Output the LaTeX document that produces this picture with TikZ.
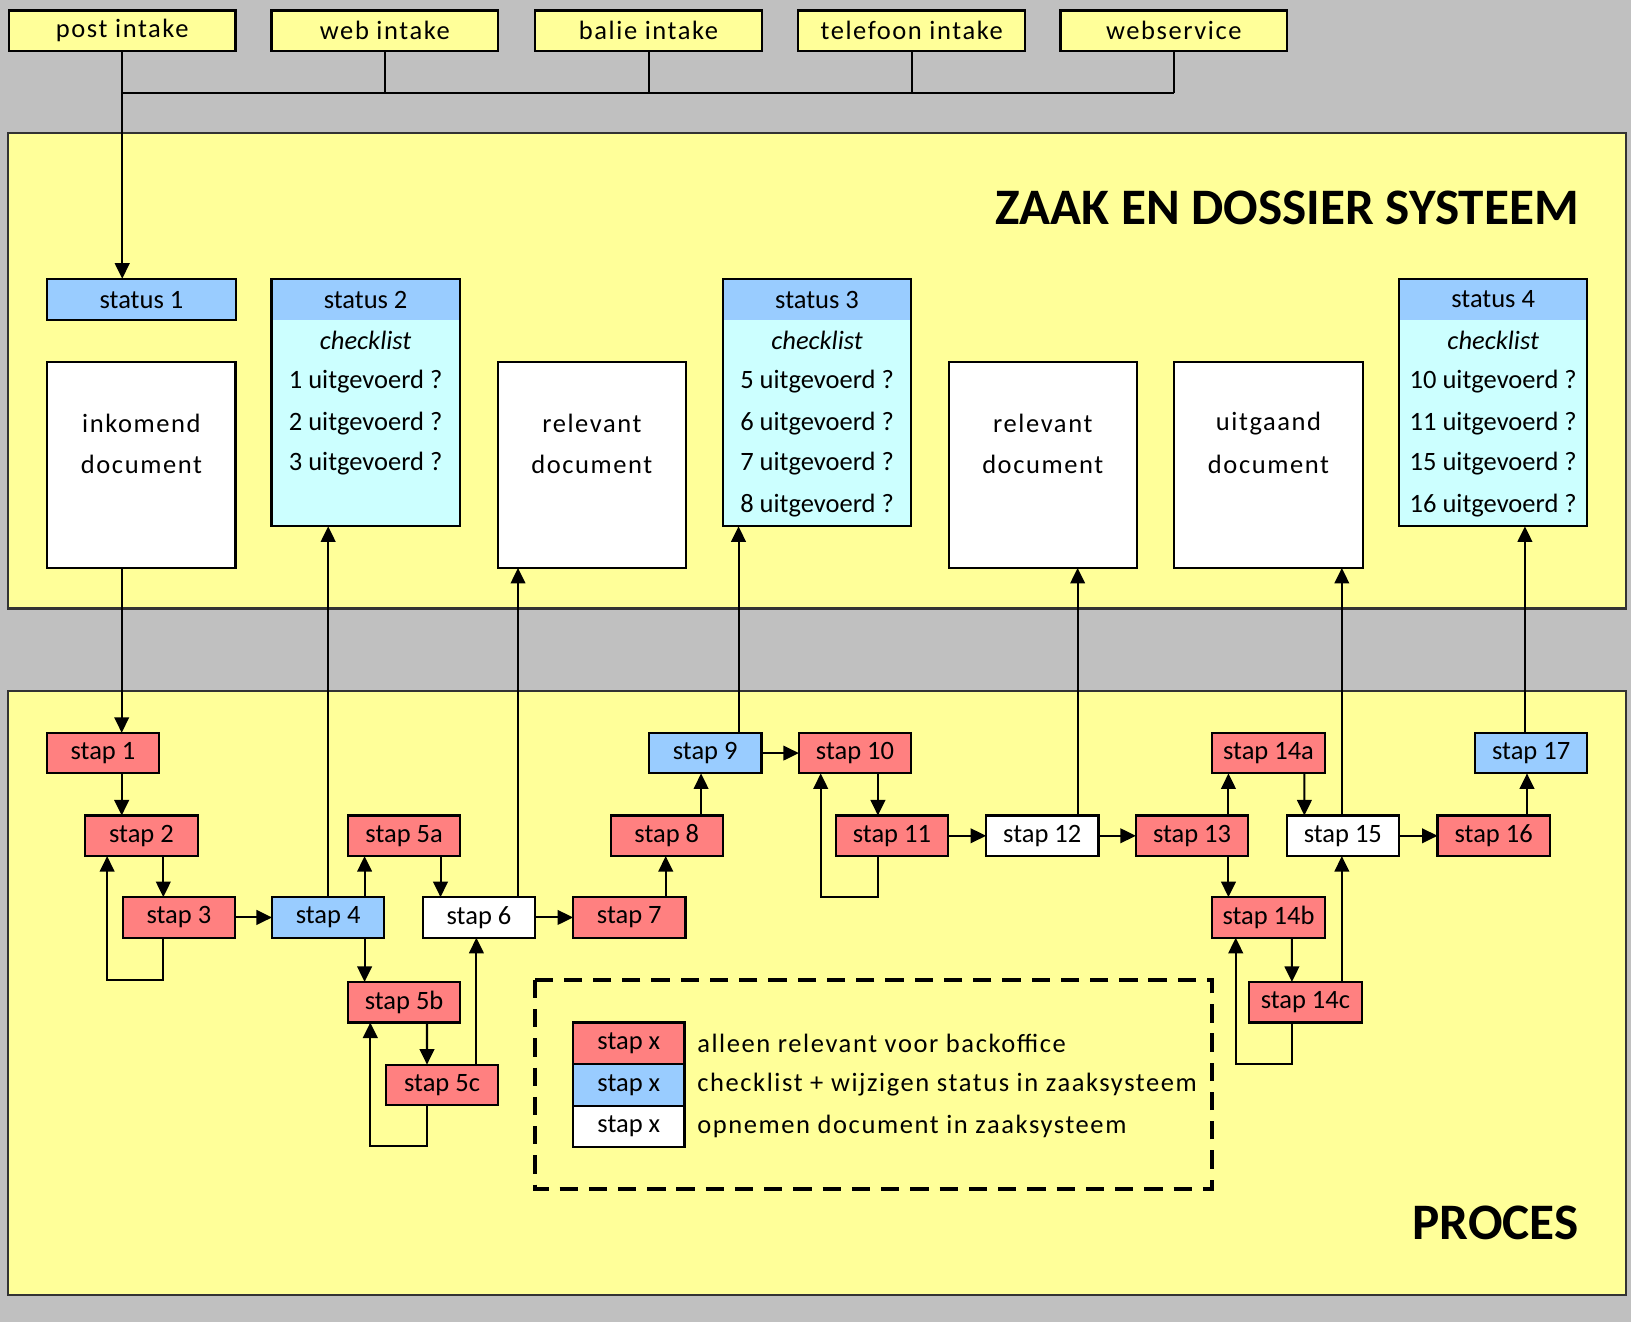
\documentclass[tikz,border=0pt]{standalone}
\usepackage{fontspec}
\setmainfont{Carlito}
\usetikzlibrary{calc,arrows.meta}
\definecolor{bggray}{HTML}{C0C0C0}
\definecolor{panelyellow}{HTML}{FFFF99}
\definecolor{stapred}{HTML}{FF8080}
\definecolor{stapblue}{HTML}{99CCFF}
\definecolor{listcyan}{HTML}{CCFFFF}
\newcommand{\wide}{\addfontfeature{LetterSpace=6.0}}
\tikzset{
  base/.style={draw=black, line width=1.2pt, inner sep=0pt, outer sep=0pt, align=center},
  intake/.style={base, fill=panelyellow, minimum width=4.36cm, minimum height=0.78cm, font=\fontsize{14.5}{17}\selectfont\wide},
  stapbox/.style={base, minimum width=2.16cm, minimum height=0.78cm},
  red/.style={stapbox, fill=stapred},
  blue/.style={stapbox, fill=stapblue},
  white/.style={stapbox, fill=white},
  docbox/.style={base, fill=white, minimum width=3.62cm, minimum height=3.96cm},
  statbox/.style={base, fill=listcyan, minimum width=3.62cm, minimum height=4.76cm},
  panel/.style={draw=black!80, line width=1.2pt, fill=panelyellow},
  txt/.style={inner sep=0pt},
  widetxt/.style={inner sep=0pt, font=\fontsize{14.5}{17}\selectfont\wide},
  conn/.style={line width=1.1pt},
  arr/.style={conn, -{Triangle[length=8.5pt,width=8pt]}},
  bigtitle/.style={inner sep=0pt, font=\fontsize{28}{32}\selectfont\bfseries},
}
\begin{document}
\begin{tikzpicture}[x=0.02cm, y=-0.02cm, font=\fontsize{14.5}{17}\selectfont]
\useasboundingbox (0,0) rectangle (1568,1271);
\fill[bggray] (0,0) rectangle (1568,1271);

% panels
\draw[panel] (8,128) rectangle (1563,585);
\draw[panel] (8,664) rectangle (1563,1245);
\node[bigtitle, anchor=base east] (zds) at (1518,216) {ZAAK EN DOSSIER SYSTEEM};
\node[bigtitle, anchor=base east] (proces) at (1518,1192) {PROCES};

% intake boxes
\node[intake] (post) at (117.5,29.5) {post intake};
\node[intake] (web) at (370,29.5) {web intake};
\node[intake] (balie) at (623.5,29.5) {balie intake};
\node[intake] (tel) at (876.5,29.5) {telefoon intake};
\node[intake] (wsvc) at (1128.5,29.5) {webservice};
\coordinate (busL) at (117.5,89);
\coordinate (busR) at (1128.5,89);
\draw[conn] (busL) -- (busR);
\foreach \n in {web,balie,tel,wsvc} \draw[conn] (\n.south) -- (\n.south |- busL);

% status 1
\node[base, fill=stapblue, minimum width=3.64cm, minimum height=0.8cm] (st1) at (136,288) {status 1};
\draw[arr] (post.south) -- (post.south |- st1.north);

% status boxes with checklist
\foreach \nm/\cx/\hd/\ra/\rb/\rc in {st2/351.5/status 2/1/2/3,st3/785.5/status 3/5/6/7,st4/1435.5/status 4/10/11/15}{
  \node[statbox] (\nm) at (\cx,387) {};
  \fill[stapblue] (\nm.north west) rectangle ($(\nm.north east)+(0,40)$);
  \draw[line width=1.2pt] (\nm.north west) rectangle (\nm.south east);
  \node[txt] (\nm h) at (\cx,288) {\hd};
  \node[txt] (\nm k) at (\cx,327) {\itshape checklist};
  \node[txt] (\nm a) at (\cx,367) {\ra\ uitgevoerd ?};
  \node[txt] (\nm b) at (\cx,407) {\rb\ uitgevoerd ?};
  \node[txt] (\nm c) at (\cx,446) {\rc\ uitgevoerd ?};
}
\node[txt] (st3d) at (785.5,486) {8 uitgevoerd ?};
\node[txt] (st4d) at (1435.5,486) {16 uitgevoerd ?};

% document boxes
\node[docbox] (doc1) at (136,447) {};
\node[widetxt] (doc1a) at (136,407) {inkomend};
\node[widetxt] (doc1b) at (136,446) {document};
\node[docbox] (rel1) at (569,447) {};
\node[widetxt] (rel1a) at (569,407) {relevant};
\node[widetxt] (rel1b) at (569,446) {document};
\node[docbox] (rel2) at (1002.5,447) {};
\node[widetxt] (rel2a) at (1002.5,407) {relevant};
\node[widetxt] (rel2b) at (1002.5,446) {document};
\node[docbox] (uit) at (1219.5,447) {};
\node[widetxt] (uita) at (1219.5,407) {uitgaand};
\node[widetxt] (uitb) at (1219.5,446) {document};

% steps
\node[red]   (s1)   at (99,724)     {stap 1};
\node[blue]  (s9)   at (678,724)    {stap 9};
\node[red]   (s10)  at (822,724)    {stap 10};
\node[red]   (s14a) at (1219.5,724) {stap 14a};
\node[blue]  (s17)  at (1472,724)   {stap 17};
\node[red]   (s2)   at (136,803.5)  {stap 2};
\node[red]   (s5a)  at (388.5,803.5){stap 5a};
\node[red]   (s8)   at (641,803.5)  {stap 8};
\node[red]   (s11)  at (857.5,803.5){stap 11};
\node[white] (s12)  at (1002,803.5) {stap 12};
\node[red]   (s13)  at (1146,803.5) {stap 13};
\node[white] (s15)  at (1291,803.5) {stap 15};
\node[red]   (s16)  at (1436,803.5) {stap 16};
\node[red]   (s3)   at (172,882)    {stap 3};
\node[blue]  (s4)   at (315.5,882)  {stap 4};
\node[white] (s6)   at (460.5,882)  {stap 6};
\node[red]   (s7)   at (605,882)    {stap 7};
\node[red]   (s14b) at (1219.5,882) {stap 14b};
\node[red]   (s5b)  at (388.5,963.5){stap 5b};
\node[red]   (s14c) at (1255,963.5) {stap 14c};
\node[red]   (s5c)  at (425,1043)   {stap 5c};

% connectors
\draw[arr] ($(doc1.south)+(-19,0)$) -- ($(s1.north)+(18,0)$);
\draw[arr] ($(s1.south)+(18,0)$) -- ($(s2.north)+(-19,0)$);
\draw[arr] ($(s2.south)+(21,0)$) -- ($(s3.north)+(-15,0)$);
\draw[arr] ($(s3.south)+(-15,0)$) -- ++(0,41) -| ($(s2.south)+(-33,0)$);
\draw[arr] (s3.east) -- (s4.west);
\draw[arr] (s4.north) -- (s4.north |- st2.south);
\draw[arr] ($(s4.north)+(35,0)$) -- ($(s5a.south)+(-38,0)$);
\draw[arr] ($(s4.south)+(35,0)$) -- ($(s5b.north)+(-38,0)$);
\draw[arr] ($(s5a.south)+(35,0)$) -- ($(s6.north)+(-37,0)$);
\draw[arr] ($(s5b.south)+(22,0)$) -- ($(s5c.north)+(-14.5,0)$);
\draw[arr] ($(s5c.south)+(-14.5,0)$) -- ++(0,39) -| ($(s5b.south)+(-32.5,0)$);
\draw[arr] ($(s5c.north)+(33,0)$) -- ($(s6.south)+(-2.5,0)$);
\draw[arr] ($(s6.north)+(37.5,0)$) coordinate (c6) -- (c6 |- rel1.south);
\draw[arr] (s6.east) -- (s7.west);
\draw[arr] ($(s7.north)+(35,0)$) -- ($(s8.south)+(-1,0)$);
\draw[arr] ($(s8.north)+(33,0)$) -- ($(s9.south)+(-4,0)$);
\draw[arr] ($(s9.north)+(32,0)$) coordinate (c9) -- (c9 |- st3.south);
\draw[arr] (s9.east) -- (s10.west);
\draw[arr] ($(s10.south)+(22,0)$) -- ($(s11.north)+(-13.5,0)$);
\draw[arr] ($(s11.south)+(-13.5,0)$) -- ++(0,39) -| ($(s10.south)+(-33,0)$);
\draw[arr] (s11.east) -- (s12.west);
\draw[arr] ($(s12.north)+(34,0)$) coordinate (c12) -- (c12 |- rel2.south);
\draw[arr] (s12.east) -- (s13.west);
\draw[arr] ($(s13.north)+(35,0)$) -- ($(s14a.south)+(-38.5,0)$);
\draw[arr] ($(s13.south)+(35,0)$) -- ($(s14b.north)+(-38.5,0)$);
\draw[arr] ($(s14a.south)+(34.5,0)$) -- ($(s15.north)+(-37,0)$);
\draw[arr] ($(s14b.south)+(22.5,0)$) -- ($(s14c.north)+(-13,0)$);
\draw[arr] ($(s14c.south)+(-13,0)$) -- ++(0,40) -| ($(s14b.south)+(-31.5,0)$);
\draw[arr] ($(s14c.north)+(35,0)$) -- ($(s15.south)+(-1,0)$);
\draw[arr] ($(s15.north)+(-1,0)$) coordinate (c15) -- (c15 |- uit.south);
\draw[arr] (s15.east) -- (s16.west);
\draw[arr] ($(s16.north)+(32,0)$) -- ($(s17.south)+(-4,0)$);
\draw[arr] ($(s17.north)+(-6,0)$) coordinate (c17) -- (c17 |- st4.south);

% legend
\draw[line width=2.3pt, dash pattern=on 10pt off 6pt] (514,942) rectangle (1165,1143);
\node[red, minimum width=2.14cm, minimum height=0.8cm]   (lg1) at (604.5,1003) {stap x};
\node[blue, minimum width=2.14cm, minimum height=0.8cm]  (lg2) at (604.5,1043) {stap x};
\node[white, minimum width=2.14cm, minimum height=0.8cm] (lg3) at (604.5,1083) {stap x};
\node[widetxt, anchor=west] (lt1) at (670,1003) {alleen relevant voor backoffice};
\node[widetxt, anchor=west] (lt2) at (670,1043) {checklist + wijzigen status in zaaksysteem};
\node[widetxt, anchor=west] (lt3) at (670,1083) {opnemen document in zaaksysteem};
\end{tikzpicture}
\end{document}
